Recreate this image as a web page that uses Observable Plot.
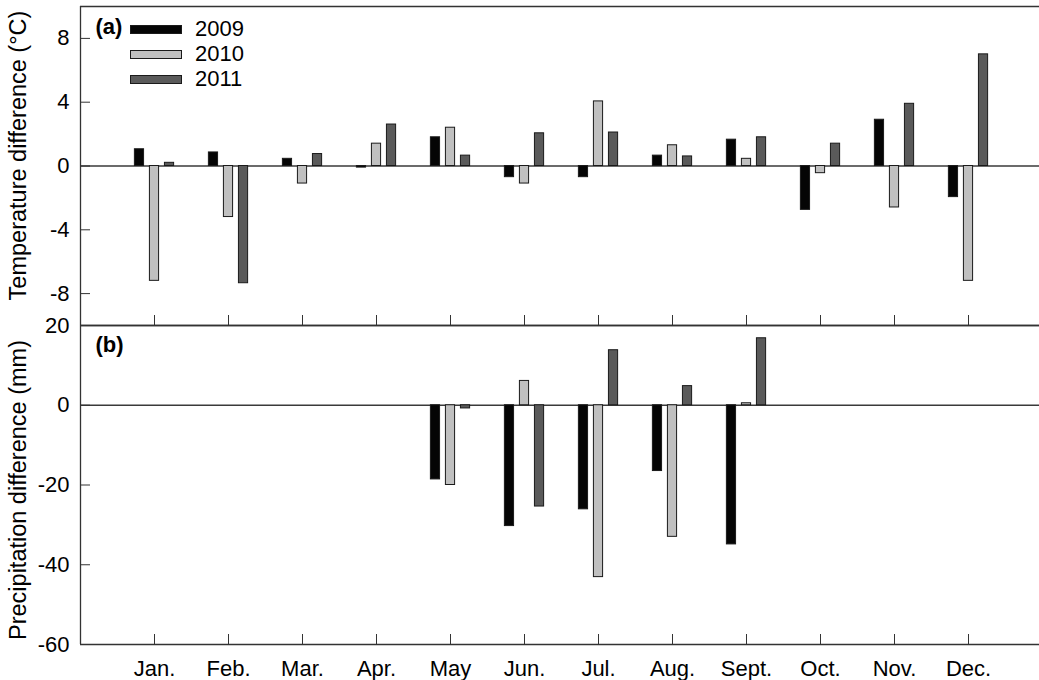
<!DOCTYPE html>
<html><head><meta charset="utf-8">
<script src="https://cdn.jsdelivr.net/npm/d3@7"></script>
<script src="https://cdn.jsdelivr.net/npm/@observablehq/plot@0.6"></script>
<style>
html,body{margin:0;padding:0;background:#fff;overflow:hidden;}
#chart{position:relative;width:1039px;height:680px;font-family:"Liberation Sans",Arial,sans-serif;}
#chart svg{position:absolute;left:0;}
.lg{position:absolute;left:130px;height:24px;display:flex;align-items:center;font-size:22px;line-height:24px;color:#000;}
.lg .sw{width:50px;height:7px;border:1px solid #1a1a1a;margin-right:13px;}
</style></head><body><div id="chart"></div>
<script>
const months = ["Jan.","Feb.","Mar.","Apr.","May","Jun.","Jul.","Aug.","Sept.","Oct.","Nov.","Dec."];
const years = ["2009","2010","2011"];
const temp2009 = [1.05, 0.85, 0.45, -0.1, 1.8, -0.7, -0.7, 0.65, 1.65, -2.75, 2.9, -1.95];
const temp2010 = [-7.2, -3.2, -1.1, 1.4, 2.4, -1.1, 4.05, 1.3, 0.45, -0.45, -2.6, -7.2];
const temp2011 = [0.2, -7.35, 0.75, 2.6, 0.65, 2.05, 2.1, 0.6, 1.8, 1.4, 3.9, 7.0];
const precip2009 = [null, null, null, null, -18.6, -30.3, -26.1, -16.5, -34.9, null, null, null];
const precip2010 = [null, null, null, null, -20.0, 6.1, -43.1, -33.0, 0.5, null, null, null];
const precip2011 = [null, null, null, null, -0.8, -25.4, 13.8, 4.8, 16.8, null, null, null];
const tempTicks = [-8, -4, 0, 4, 8];
const precipTicks = [-60, -40, -20, 0, 20];
const tempTitle = "Temperature difference (°C)";
const precipTitle = "Precipitation difference (mm)";
const colors = ["#050505", "#c0c0c0", "#5a5a5a"];

const offsets = [-0.203, 0, 0.203];
const hw = 0.062;
const monthIdx = months.map((m, i) => i + 1);

function rows(seriesList) {
  const out = [];
  seriesList.forEach((s, yi) => s.forEach((v, mi) => {
    if (v != null) out.push({year: years[yi], yi, m: mi + 1, v});
  }));
  return out;
}
const tempRows = rows([temp2009, temp2010, temp2011]);
const precipRows = rows([precip2009, precip2010, precip2011]);

const styleBase = {fontSize: "22px", fontFamily: "'Liberation Sans', Arial, sans-serif", color: "#000", background: "transparent", overflow: "hidden"};
const xScale = {domain: [0, 13], range: [80, 1042]};
const colorScale = {domain: years, range: colors};
const fmt = d => String(d);
const bar = (data) => Plot.rectY(data, {
  x1: d => d.m + offsets[d.yi] - hw,
  x2: d => d.m + offsets[d.yi] + hw,
  y1: 0, y2: "v", fill: "year", stroke: "#1a1a1a", strokeWidth: 1
});
const title = (t, dy) => Plot.text([t], {text: d => d, frameAnchor: "left", rotate: -90,
  dx: -62.5, dy, fontSize: 23.5, textAnchor: "middle", lineAnchor: "middle"});

const plotA = Plot.plot({
  width: 1039, height: 330,
  marginTop: 6, marginBottom: 5, marginLeft: 80, marginRight: 0,
  x: xScale,
  y: {domain: [-10, 10]},
  color: colorScale,
  style: {...styleBase, background: "#fff"},
  marks: [
    Plot.ruleY([0], {stroke: "#3a3a3a", strokeWidth: 1.3}),
    bar(tempRows),
    Plot.ruleY([10, -10], {stroke: "#333", strokeWidth: 1.3}),
    Plot.ruleX([0], {stroke: "#333", strokeWidth: 1.3}),
    Plot.axisY(tempTicks, {tickSize: -10, tickPadding: 21, stroke: "#333", tickFormat: fmt, label: null}),
    Plot.axisX(monthIdx, {tickSize: -10, tickFormat: () => "", label: null, stroke: "#333"}),
    title(tempTitle, -10.5),
    Plot.text(["(a)"], {text: d => d, frameAnchor: "top-left", dx: 15, dy: 12,
      textAnchor: "start", lineAnchor: "top", fontWeight: "bold"})
  ]
});
plotA.style.top = "0px";

const plotB = Plot.plot({
  width: 1039, height: 390,
  marginTop: 35, marginBottom: 36, marginLeft: 80, marginRight: 0,
  x: xScale,
  y: {domain: [-60, 20]},
  color: colorScale,
  style: styleBase,
  marks: [
    Plot.ruleY([0], {stroke: "#3a3a3a", strokeWidth: 1.3}),
    bar(precipRows),
    Plot.ruleY([20, -60], {stroke: "#333", strokeWidth: 1.3}),
    Plot.ruleX([0], {stroke: "#333", strokeWidth: 1.3}),
    Plot.axisY(precipTicks, {tickSize: -10, tickPadding: 21, stroke: "#333", tickFormat: fmt, label: null}),
    Plot.axisX(monthIdx, {tickSize: -10, tickPadding: 26, tickFormat: i => months[i - 1], label: null, stroke: "#333"}),
    title(precipTitle, 5),
    Plot.text(["(b)"], {text: d => d, frameAnchor: "top-left", dx: 15, dy: 11,
      textAnchor: "start", lineAnchor: "top", fontWeight: "bold"})
  ]
});
plotB.style.top = "290px";

const chart = document.getElementById("chart");
chart.appendChild(plotA);
chart.appendChild(plotB);

years.forEach((y, i) => {
  const row = document.createElement("div");
  row.className = "lg";
  row.style.top = (17 + 25 * i) + "px";
  const sw = document.createElement("div");
  sw.className = "sw";
  sw.style.background = colors[i];
  row.appendChild(sw);
  const t = document.createElement("span");
  t.textContent = y;
  row.appendChild(t);
  chart.appendChild(row);
});
</script>
</body></html>
